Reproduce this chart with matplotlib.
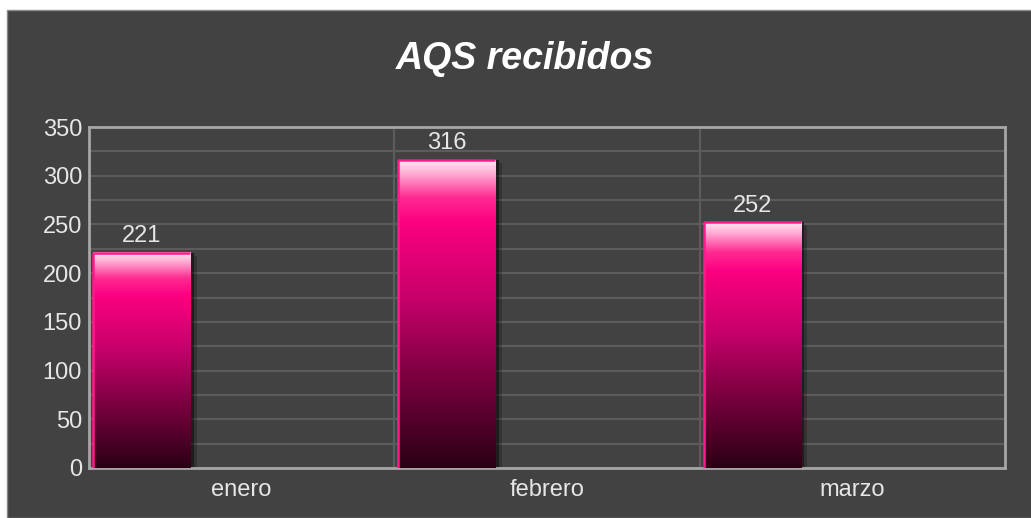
"""
AQS recibidos - barras con degradado rosa sobre fondo oscuro
"""
import numpy as np
import matplotlib
matplotlib.use('Agg')
import matplotlib.pyplot as plt
from matplotlib.colors import LinearSegmentedColormap
from matplotlib.patches import Rectangle

plt.rcParams['font.family'] = ['Liberation Sans', 'DejaVu Sans']

# datos
meses = ['enero', 'febrero', 'marzo']
valores = [221, 316, 252]
y_ticks = [0, 50, 100, 150, 200, 250, 300, 350]

BG = '#424242'
GRID = '#5c5c5c'
FRAME = '#a6a6a6'
TXT = '#e6e6e6'

fig = plt.figure(figsize=(10.31, 5.18), dpi=100, facecolor='white')
# panel oscuro
fig.patches.append(Rectangle((7 / 1031, 0), 1, 1 - 10 / 518, transform=fig.transFigure,
                             facecolor=BG, edgecolor='#8a8a8a', linewidth=1.0, zorder=-10))

ax = fig.add_axes([89 / 1031, 50 / 518, 916 / 1031, 341 / 518])
ax.set_facecolor(BG)

# degradado de la barra (arriba -> abajo)
cmap = LinearSegmentedColormap.from_list('rosa', [
    (0.00, '#ffe6f3'),
    (0.04, '#ffb0d6'),
    (0.12, '#ff2b92'),
    (0.20, '#fb0080'),
    (0.45, '#c6006a'),
    (0.70, '#7c0040'),
    (1.00, '#2a0014'),
])
grad = np.linspace(0, 1, 256).reshape(-1, 1)

x0 = 0.013
w = 0.318
for i, v in enumerate(valores):
    left = i + x0
    # sombra a la derecha
    ax.bar(left + w, v, width=0.012, bottom=0, align='edge', color='black', alpha=0.55, zorder=2)
    ax.bar(left + w + 0.012, v - 3, width=0.010, bottom=0, align='edge', color='black', alpha=0.22, zorder=2)
    # relleno con degradado
    ax.imshow(grad, cmap=cmap, aspect='auto', extent=[left, left + w, 0, v],
              origin='upper', zorder=3, interpolation='bicubic')
    # borde rosa izquierdo y superior
    ax.plot([left, left, left + w], [0, v, v], color='#ff1a8c', linewidth=1.8, zorder=4,
            solid_capstyle='butt')
    ax.text(left + w / 2, v + 6, str(v), ha='center', va='bottom', color=TXT, fontsize=17, zorder=5)

ax.set_xlim(0, 3)
ax.set_ylim(0, 350)
ax.set_yticks(y_ticks)
ax.set_yticks(np.arange(0, 351, 25), minor=True)
ax.set_xticks([0.5, 1.5, 2.5])
ax.set_xticklabels(meses)
ax.tick_params(axis='both', which='both', length=0, colors=TXT, labelsize=17)
ax.tick_params(axis='x', pad=8)
ax.tick_params(axis='y', pad=5)

ax.grid(True, axis='y', which='both', color=GRID, linewidth=1.6, zorder=0)
ax.set_axisbelow(True)
for xb in [1, 2]:
    ax.axvline(xb, color=GRID, linewidth=1.6, zorder=0)

for s in ax.spines.values():
    s.set_color(FRAME)
    s.set_linewidth(2.0)

fig.text(0.509, 0.886, 'AQS recibidos', ha='center', va='center', color='white',
         fontsize=27, fontweight='bold', fontstyle='italic')

fig.savefig('out.png', dpi=100, facecolor=fig.get_facecolor())
